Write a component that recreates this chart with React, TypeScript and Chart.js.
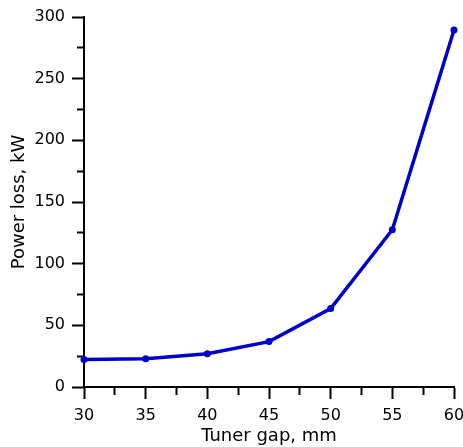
import React, { useEffect, useRef } from "react";
import { Chart, registerables } from "chart.js";

Chart.register(...registerables);

const gaps = [30, 35, 40, 45, 50, 55, 60];
const powerLoss = [22.3, 23, 26.9, 36.8, 63.6, 127.5, 289.5];
const xTitle = "Tuner gap, mm";
const yTitle = "Power loss, kW";

const FONT = "'DejaVu Sans', 'Liberation Sans', Arial, sans-serif";
const BLUE = "#0000cc";

export default function App() {
  const ref = useRef<HTMLCanvasElement>(null);
  useEffect(() => {
    const canvas = ref.current!;
    const chart = new Chart(canvas, {
      type: "line",
      data: {
        datasets: [
          {
            data: gaps.map((g, i) => ({ x: g, y: powerLoss[i] })),
            borderColor: BLUE,
            backgroundColor: BLUE,
            borderWidth: 3.5,
            pointRadius: 3.5,
            pointBorderWidth: 0,
            pointBackgroundColor: BLUE,
            tension: 0,
            clip: false as any,
          },
        ],
      },
      options: {
        animation: false,
        responsive: false,
        devicePixelRatio: 1,
        layout: { padding: { top: 17, right: 9, bottom: 0, left: 0 } },
        plugins: { legend: { display: false }, tooltip: { enabled: false } },
        scales: {
          x: {
            type: "linear",
            min: 30,
            max: 60,
            afterFit: (s: any) => {
              s.height = 60;
              s.paddingLeft = 0;
              s.paddingRight = 0;
            },
            border: { display: true, color: "#000", width: 2 },
            grid: {
              drawOnChartArea: false,
              drawTicks: true,
              tickLength: 12,
              tickColor: "#000",
              tickWidth: 2,
              tickBorderDash: (ctx: any) =>
                ctx.tick && ctx.tick.value % 5 !== 0 ? [7, 30] : [],
            },
            ticks: {
              stepSize: 2.5,
              autoSkip: false,
              maxRotation: 0,
              maxTicksLimit: 100,
              padding: 7,
              color: "#000",
              font: { family: FONT, size: 16 },
              callback: (v: any) => (Number(v) % 5 === 0 ? String(v) : ""),
            },
            title: {
              display: true,
              text: xTitle,
              color: "#000",
              font: { family: FONT, size: 18 },
              padding: { top: 0, bottom: 0 },
            },
          },
          y: {
            type: "linear",
            min: 0,
            max: 300,
            afterFit: (s: any) => {
              s.width = 84;
              s.paddingTop = 0;
              s.paddingBottom = 0;
            },
            border: { display: true, color: "#000", width: 2 },
            grid: {
              drawOnChartArea: false,
              drawTicks: true,
              tickLength: 12,
              tickColor: "#000",
              tickWidth: 2,
              tickBorderDash: (ctx: any) =>
                ctx.tick && ctx.tick.value % 50 !== 0 ? [0, 5, 8, 30] : [],
            },
            ticks: {
              stepSize: 25,
              autoSkip: false,
              maxTicksLimit: 100,
              padding: 7,
              color: "#000",
              font: { family: FONT, size: 16 },
              callback: (v: any) => (Number(v) % 50 === 0 ? String(v) : ""),
            },
            title: {
              display: true,
              text: yTitle,
              color: "#000",
              font: { family: FONT, size: 18 },
              padding: { top: 8.5, bottom: 0 },
            },
          },
        },
      },
    });
    return () => chart.destroy();
  }, []);
  return (
    <div style={{ position: "absolute", left: 0, top: 0, width: 463, height: 447, background: "#fff" }}>
      <canvas ref={ref} width={463} height={447} style={{ display: "block" }} />
    </div>
  );
}
